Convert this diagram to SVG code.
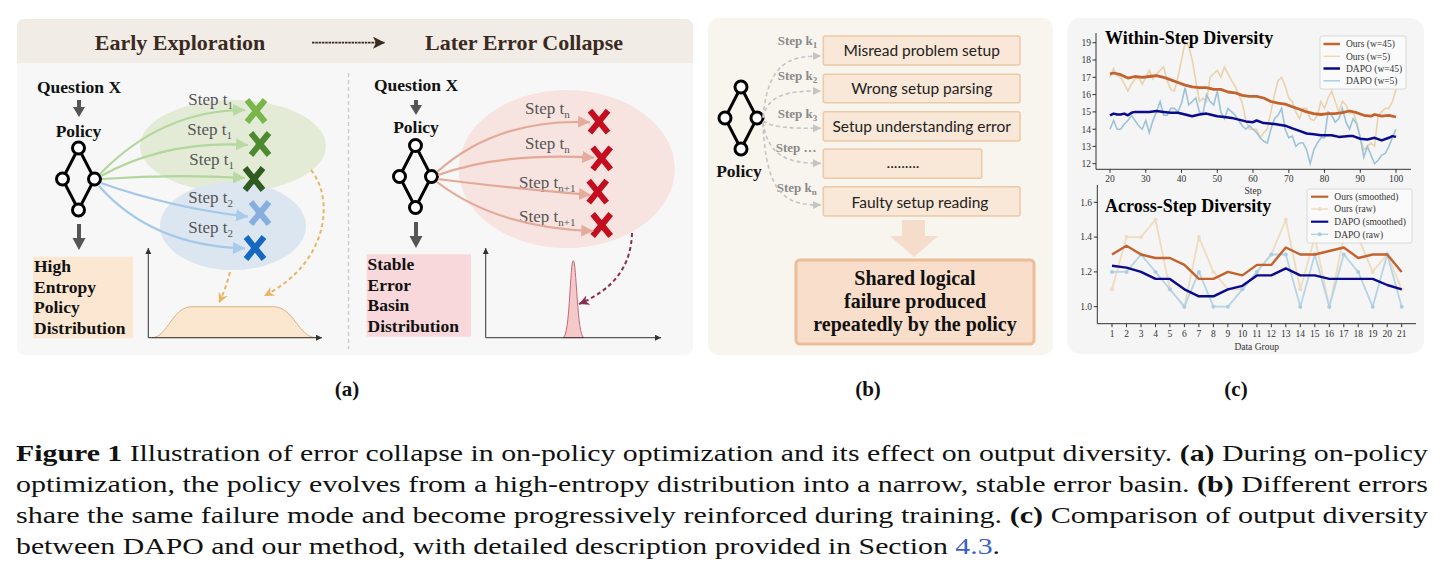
<svg xmlns="http://www.w3.org/2000/svg" width="1443" height="581" viewBox="0 0 1443 581">
<style>
.serif{font-family:"Liberation Serif","Times New Roman",serif}
.bold{font-weight:bold}
.hdr{font-family:"Liberation Serif",serif;font-weight:bold;font-size:22px;fill:#3b2a1e;text-anchor:middle}
.lbl{font-family:"Liberation Serif",serif;font-weight:bold;font-size:17.5px;fill:#111}
.step{font-family:"Liberation Serif",serif;font-size:17px;fill:#555}
.stepb{font-family:"Liberation Serif",serif;font-weight:bold;font-size:13px;fill:#8a8a8a}
.box{fill:#f9e7d7;stroke:#ecc9a7;stroke-width:1.5}
.boxt{font-family:Lato,"Open Sans",sans-serif;font-size:15.5px;fill:#222;text-anchor:middle}
.net circle{fill:#fff;stroke:#000;stroke-width:3}
.net path{fill:none;stroke:#000;stroke-width:3}
.tick{font-family:"Liberation Serif",serif;font-size:9.5px;fill:#333}
.leg{font-family:"Liberation Serif",serif;font-size:9.5px;fill:#333}
.ax{stroke:#333;stroke-width:1;fill:none}
.cap{font-family:"Liberation Serif","Times New Roman",serif;font-size:24px;fill:#111}
.xg{stroke-width:6;fill:none}
</style>
<defs>
<g id="net" class="net">
<path d="M0,-31 L-16,0 L0,31 L16,0 Z"/>
<circle cx="0" cy="-31" r="6"/><circle cx="-16" cy="0" r="6"/><circle cx="16" cy="0" r="6"/><circle cx="0" cy="31" r="6"/>
</g>
<path id="xm" d="M-9,-11 L9,11 M9,-11 L-9,11"/>
<marker id="mg" markerUnits="userSpaceOnUse" markerWidth="14" markerHeight="14" refX="12" refY="6" orient="auto"><path d="M0,0 L12,6 L0,12 Z" fill="#b9d9a2"/></marker>
<marker id="mb" markerUnits="userSpaceOnUse" markerWidth="14" markerHeight="14" refX="12" refY="6" orient="auto"><path d="M0,0 L12,6 L0,12 Z" fill="#a9cbeb"/></marker>
<marker id="mr" markerUnits="userSpaceOnUse" markerWidth="14" markerHeight="14" refX="12" refY="6" orient="auto"><path d="M0,0 L12,6 L0,12 Z" fill="#e5ab9d"/></marker>
<marker id="mo" markerUnits="userSpaceOnUse" markerWidth="12" markerHeight="12" refX="10" refY="5" orient="auto"><path d="M0,0 L10,5 L0,10 L3,5 Z" fill="#e9b565"/></marker>
<marker id="mp" markerUnits="userSpaceOnUse" markerWidth="12" markerHeight="12" refX="10" refY="5" orient="auto"><path d="M0,0 L10,5 L0,10 L3,5 Z" fill="#8b2d4f"/></marker>
<marker id="mgr" markerUnits="userSpaceOnUse" markerWidth="10" markerHeight="10" refX="8" refY="4" orient="auto"><path d="M0,0 L8,4 L0,8 Z" fill="#c4c4c4"/></marker>
<marker id="mk" markerUnits="userSpaceOnUse" markerWidth="8" markerHeight="8" refX="6" refY="3" orient="auto"><path d="M0,0 L6,3 L0,6 Z" fill="#333"/></marker>
<marker id="mh" markerUnits="userSpaceOnUse" markerWidth="14" markerHeight="14" refX="12" refY="6" orient="auto"><path d="M0,0 L12,6 L0,12 L3,6 Z" fill="#3b2a1e"/></marker>
<marker id="dotb" markerUnits="userSpaceOnUse" markerWidth="6" markerHeight="6" refX="3" refY="3"><circle cx="3" cy="3" r="2" fill="#a9cde3"/></marker>
<marker id="doto" markerUnits="userSpaceOnUse" markerWidth="6" markerHeight="6" refX="3" refY="3"><circle cx="3" cy="3" r="2" fill="#efdcbf"/></marker>
</defs>

<rect width="1443" height="581" fill="#fff"/>

<!-- Panel A -->
<g id="panel-a">
<rect x="17" y="19" width="676" height="336" rx="8" fill="#f7f7f7"/>
<path d="M17,63 L17,27 Q17,19 25,19 L685,19 Q693,19 693,27 L693,63 Z" fill="#f2ece6"/>
<text class="hdr" x="180" y="50">Early Exploration</text>
<text class="hdr" x="524" y="50">Later Error Collapse</text>
<line x1="312" y1="42.7" x2="385" y2="42.7" stroke="#3b2a1e" stroke-width="1.8" stroke-dasharray="2.5 0.8" marker-end="url(#mh)"/>
<line x1="348.5" y1="73" x2="348.5" y2="349" stroke="#cfcfcf" stroke-width="1.5" stroke-dasharray="4 3"/>

<g id="ellipses">
<ellipse cx="233" cy="146" rx="93" ry="46" fill="#e3ebd6"/>
<ellipse cx="233" cy="226" rx="73" ry="44" fill="#dce6f0"/>
<ellipse cx="566.7" cy="169" rx="108" ry="79" fill="#f7e3df"/>
</g>

<g id="node-question-early">
<text class="lbl" x="79" y="93" text-anchor="middle">Question X</text>
<path d="M79,100 L79,108" stroke="#555" stroke-width="4"/><path d="M73,107 L85,107 L79,117 Z" fill="#555"/>
</g>
<g id="node-policy-early">
<text class="lbl" x="78.5" y="137" text-anchor="middle">Policy</text>
<use href="#net" x="78.5" y="179"/>
<path d="M79,224 L79,239" stroke="#555" stroke-width="4"/><path d="M72.5,238 L85.5,238 L79,250 Z" fill="#555"/>
</g>
<g id="node-high-entropy">
<rect x="33" y="256.7" width="100" height="81.6" fill="#fbe7d2"/>
<text class="lbl" x="34" y="272" font-size="18">High</text>
<text class="lbl" x="34" y="292.5" font-size="18">Entropy</text>
<text class="lbl" x="34" y="313" font-size="18">Policy</text>
<text class="lbl" x="34" y="333.5" font-size="18">Distribution</text>
</g>
<g id="node-steps-early">
<text class="step" x="188.3" y="105">Step t<tspan font-size="11" dy="4">1</tspan></text>
<text class="step" x="187.3" y="135">Step t<tspan font-size="11" dy="4">1</tspan></text>
<text class="step" x="189.3" y="165">Step t<tspan font-size="11" dy="4">1</tspan></text>
<text class="step" x="188.3" y="203.3">Step t<tspan font-size="11" dy="4">2</tspan></text>
<text class="step" x="188.3" y="233.3">Step t<tspan font-size="11" dy="4">2</tspan></text>
<use href="#xm" x="256" y="111" class="xg" stroke="#79b54a"/>
<use href="#xm" x="260" y="144" class="xg" stroke="#4d8a32"/>
<use href="#xm" x="254" y="179" class="xg" stroke="#2f5a20"/>
<use href="#xm" x="260" y="213" class="xg" stroke="#86aede"/>
<use href="#xm" x="255" y="248" class="xg" stroke="#1468c0"/>
</g>
<g id="node-dist-early">
<path d="M152,337.7 C168,337 172,306.7 192,306.7 L273,306.7 C294,306.7 298,337 316,337.7 Z" fill="#fbe6cf" stroke="#d9b485" stroke-width="1"/>
<line x1="148.3" y1="337.7" x2="148.3" y2="248" class="ax" marker-end="url(#mk)"/>
<line x1="148.3" y1="337.7" x2="322" y2="337.7" class="ax" marker-end="url(#mk)"/>
</g>

<g id="node-question-late">
<text class="lbl" x="416" y="91" text-anchor="middle">Question X</text>
<path d="M416,100 L416,106" stroke="#555" stroke-width="4"/><path d="M410,105 L422,105 L416,115 Z" fill="#555"/>
</g>
<g id="node-policy-late">
<text class="lbl" x="416" y="133.3" text-anchor="middle">Policy</text>
<use href="#net" x="415.5" y="176.5"/>
<path d="M416,222 L416,237" stroke="#555" stroke-width="4"/><path d="M409.5,236 L422.5,236 L416,248 Z" fill="#555"/>
</g>
<g id="node-stable-basin">
<rect x="366.7" y="254.3" width="104.3" height="82.4" fill="#f8d8da"/>
<text class="lbl" x="367.5" y="270" font-size="18">Stable</text>
<text class="lbl" x="367.5" y="290.5" font-size="18">Error</text>
<text class="lbl" x="367.5" y="311" font-size="18">Basin</text>
<text class="lbl" x="367.5" y="331.5" font-size="18">Distribution</text>
</g>
<g id="node-steps-late">
<text class="step" x="525" y="114">Step t<tspan font-size="11" dy="4">n</tspan></text>
<text class="step" x="525" y="149">Step t<tspan font-size="11" dy="4">n</tspan></text>
<text class="step" x="519" y="188">Step t<tspan font-size="11" dy="4">n+1</tspan></text>
<text class="step" x="519" y="221.7">Step t<tspan font-size="11" dy="4">n+1</tspan></text>
<use href="#xm" x="599" y="121.7" class="xg" stroke="#c40d1e"/>
<use href="#xm" x="601.7" y="158.3" class="xg" stroke="#c40d1e"/>
<use href="#xm" x="597.7" y="191.7" class="xg" stroke="#c40d1e"/>
<use href="#xm" x="601.7" y="225" class="xg" stroke="#c40d1e"/>
</g>
<g id="node-dist-late">
<path d="M563,337.7 C570,337 570,260.7 573.3,260.7 C576.5,260.7 577,337 584,337.7 Z" fill="#f5c8c9" stroke="#c06b78" stroke-width="1"/>
<line x1="485.7" y1="337.7" x2="485.7" y2="248" class="ax" marker-end="url(#mk)"/>
<line x1="485.7" y1="337.7" x2="661" y2="337.7" class="ax" marker-end="url(#mk)"/>
</g>
</g>

<!-- Panel B -->
<g id="panel-b">
<rect x="708" y="18" width="345" height="337" rx="10" fill="#f8f4ee"/>
<g id="node-policy-b">
<use href="#net" x="741" y="118"/>
<text class="lbl" x="739" y="177" text-anchor="middle">Policy</text>
</g>
<g id="node-box-1"><rect class="box" x="823.3" y="36" width="196.7" height="29" rx="2"/><text class="boxt" x="921.7" y="55.5">Misread problem setup</text></g>
<g id="node-box-2"><rect class="box" x="823.3" y="74.3" width="196.7" height="28.4" rx="2"/><text class="boxt" x="921.7" y="94">Wrong setup parsing</text></g>
<g id="node-box-3"><rect class="box" x="823.3" y="111.7" width="196.7" height="29.3" rx="2"/><text class="boxt" x="921.7" y="131.7">Setup understanding error</text></g>
<g id="node-box-4"><rect class="box" x="823.3" y="149" width="158.4" height="29.3" rx="2"/><text class="boxt" x="903" y="168">.........</text></g>
<g id="node-box-5"><rect class="box" x="823.3" y="186.7" width="196.7" height="29.3" rx="2"/><text class="boxt" x="920" y="207.5">Faulty setup reading</text></g>
<g id="node-step-labels-b">
<text class="stepb" x="777.7" y="45">Step k<tspan font-size="9" dy="3">1</tspan></text>
<text class="stepb" x="777.7" y="80">Step k<tspan font-size="9" dy="3">2</tspan></text>
<text class="stepb" x="777.7" y="117.7">Step k<tspan font-size="9" dy="3">3</tspan></text>
<text class="stepb" x="775.7" y="151.7">Step …</text>
<text class="stepb" x="776.7" y="191.7">Step k<tspan font-size="9" dy="3">n</tspan></text>
</g>
<g id="node-down-arrow-b"><path d="M902,220 L925,220 L925,236 L938,236 L914,257 L890,236 L902,236 Z" fill="#f6dccb"/></g>
<g id="node-shared-failure">
<rect x="796" y="260" width="238" height="84" rx="4" fill="#f9dfcb" stroke="#ecbd97" stroke-width="3"/>
<text class="serif bold" x="915" y="285" font-size="20" text-anchor="middle" fill="#111">Shared logical</text>
<text class="serif bold" x="915" y="308" font-size="20" text-anchor="middle" fill="#111">failure produced</text>
<text class="serif bold" x="915" y="330.5" font-size="20" text-anchor="middle" fill="#111">repeatedly by the policy</text>
</g>
</g>

<!-- Connectors -->
<g id="connectors" fill="none">
<path d="M100,174 Q162,110 245,110" stroke="#b2d69b" stroke-width="2.2" marker-end="url(#mg)"/>
<path d="M101,176 Q166,140 248,145" stroke="#b2d69b" stroke-width="2.2" marker-end="url(#mg)"/>
<path d="M102,179 Q172,174 245,178" stroke="#b2d69b" stroke-width="2.2" marker-end="url(#mg)"/>
<path d="M101,183 Q172,208 248,216.7" stroke="#a5c8ea" stroke-width="2.2" marker-end="url(#mb)"/>
<path d="M99,186 Q152,246 245,248.3" stroke="#a5c8ea" stroke-width="2.2" marker-end="url(#mb)"/>
<path d="M311,170 C334,198 330,262 264,296" stroke="#e9b565" stroke-width="2" stroke-dasharray="4 3" marker-end="url(#mo)"/>
<path d="M230,272 Q226,288 219,303" stroke="#e9b565" stroke-width="2" stroke-dasharray="4 3" marker-end="url(#mo)"/>
<path d="M437,172 Q497,118 590,122.3" stroke="#e3a897" stroke-width="2.2" marker-end="url(#mr)"/>
<path d="M438,175 Q502,152 594.3,157.7" stroke="#e3a897" stroke-width="2.2" marker-end="url(#mr)"/>
<path d="M438,179 Q507,188 591,195" stroke="#e3a897" stroke-width="2.2" marker-end="url(#mr)"/>
<path d="M437,182 Q497,228 593.3,231" stroke="#e3a897" stroke-width="2.2" marker-end="url(#mr)"/>
<path d="M632,233 C631,268 612,290 579,304" stroke="#8b2d4f" stroke-width="2" stroke-dasharray="4 3" marker-end="url(#mp)"/>
<path d="M763,117 C768,62 790,56 821,56" stroke="#c4c4c4" stroke-width="1.6" stroke-dasharray="4 3" marker-end="url(#mgr)"/>
<path d="M763,118 C768,93 790,91 821,91" stroke="#c4c4c4" stroke-width="1.6" stroke-dasharray="4 3" marker-end="url(#mgr)"/>
<path d="M763,121 C772,128 795,128.3 821,128.3" stroke="#c4c4c4" stroke-width="1.6" stroke-dasharray="4 3" marker-end="url(#mgr)"/>
<path d="M763,122 C768,158 790,163.3 821,163.3" stroke="#c4c4c4" stroke-width="1.6" stroke-dasharray="4 3" marker-end="url(#mgr)"/>
<path d="M763,123 C766,198 788,205 821,205" stroke="#c4c4c4" stroke-width="1.6" stroke-dasharray="4 3" marker-end="url(#mgr)"/>
</g>

<!-- Panel C -->
<g id="panel-c">
<rect x="1067" y="18" width="357" height="336" rx="14" fill="#f5f5f5"/>
<g id="chart-within">
<polyline fill="none" stroke="#e9d3ad" stroke-width="1.6" points="1110,77.3 1113.6,68.6 1117.2,75.6 1120.7,77.3 1124.3,84.2 1127.9,91.1 1131.5,84.2 1135,79.0 1138.6,77.3 1142.2,84.2 1145.8,77.3 1149.3,70.4 1152.9,79.0 1156.5,73.8 1160.1,70.4 1163.6,66.9 1167.2,80.7 1170.8,89.4 1174.4,91.1 1177.9,77.3 1181.5,60.0 1185.1,42.7 1188.7,46.2 1192.2,60.0 1195.8,80.7 1199.4,101.5 1203,98.0 1206.5,101.5 1210.1,77.3 1213.7,73.8 1217.3,70.4 1220.8,77.3 1224.4,66.9 1228,73.8 1231.6,80.7 1235.1,85.9 1238.7,94.6 1242.3,103.2 1245.9,120.5 1249.4,129.2 1253,129.2 1256.6,129.2 1260.2,137.8 1263.7,132.6 1267.3,129.2 1270.9,111.9 1274.5,94.6 1278,80.7 1281.6,77.3 1285.2,85.9 1288.8,98.0 1292.3,101.5 1295.9,111.9 1299.5,118.8 1303.1,108.4 1306.6,108.4 1310.2,118.8 1313.8,120.5 1317.4,115.3 1320.9,101.5 1324.5,108.4 1328.1,98.0 1331.7,91.1 1335.2,101.5 1338.8,111.9 1342.4,101.5 1346,104.9 1349.5,113.6 1353.1,111.9 1356.7,122.2 1360.3,137.8 1363.8,149.9 1367.4,146.4 1371,143.0 1374.6,146.4 1378.1,115.3 1381.7,111.9 1385.3,108.4 1388.9,108.4 1392.4,101.5 1396,89.4"/>
<polyline fill="none" stroke="#9cc3da" stroke-width="1.6" points="1110,129.2 1113.6,120.5 1117.2,129.2 1120.7,129.2 1124.3,124.0 1127.9,120.5 1131.5,115.3 1135,120.5 1138.6,125.7 1142.2,129.2 1145.8,120.5 1149.3,132.6 1152.9,120.5 1156.5,111.9 1160.1,101.5 1163.6,115.3 1167.2,115.3 1170.8,108.4 1174.4,108.4 1177.9,111.9 1181.5,103.2 1185.1,87.7 1188.7,104.9 1192.2,101.5 1195.8,98.0 1199.4,111.9 1203,113.6 1206.5,94.6 1210.1,101.5 1213.7,104.9 1217.3,91.1 1220.8,111.9 1224.4,118.8 1228,108.4 1231.6,111.9 1235.1,115.3 1238.7,120.5 1242.3,125.7 1245.9,129.2 1249.4,125.7 1253,129.2 1256.6,132.6 1260.2,137.8 1263.7,141.3 1267.3,143.0 1270.9,129.2 1274.5,118.8 1278,115.3 1281.6,108.4 1285.2,129.2 1288.8,137.8 1292.3,136.1 1295.9,146.4 1299.5,143.0 1303.1,143.0 1306.6,149.9 1310.2,163.7 1313.8,149.9 1317.4,143.0 1320.9,137.8 1324.5,137.8 1328.1,111.9 1331.7,115.3 1335.2,122.2 1338.8,118.8 1342.4,108.4 1346,122.2 1349.5,129.2 1353.1,118.8 1356.7,124.0 1360.3,137.8 1363.8,157.0 1367.4,146.4 1371,155.1 1374.6,163.7 1378.1,160.3 1381.7,155.1 1385.3,153.4 1388.9,146.4 1392.4,137.8 1396,129.2"/>
<polyline fill="none" stroke="#c4622d" stroke-width="2.8" stroke-linejoin="round" points="1110,73.8 1113.6,73.0 1120.7,74.7 1127.9,78.1 1135,76.5 1142.2,77.3 1149.3,76.5 1156.5,75.6 1163.6,77.3 1170.8,79.9 1177.9,82.5 1185.1,85.1 1192.2,86.8 1199.4,87.7 1206.5,87.7 1213.7,89.4 1220.8,89.4 1228,92.0 1235.1,92.8 1242.3,95.4 1249.4,96.3 1256.6,96.3 1263.7,98.0 1270.9,101.5 1278,103.2 1285.2,104.1 1292.3,106.7 1299.5,109.3 1306.6,111.9 1313.8,113.6 1320.9,114.5 1328.1,113.6 1335.2,113.6 1342.4,112.7 1349.5,111.0 1356.7,112.7 1363.8,115.3 1371,116.2 1374.6,114.5 1381.7,116.2 1388.9,115.3 1396,117.0"/>
<polyline fill="none" stroke="#0a0a8c" stroke-width="2.5" stroke-linejoin="round" points="1110,115.3 1113.6,113.6 1117.2,114.5 1120.7,114.5 1124.3,113.6 1127.9,115.3 1131.5,112.7 1135,111.9 1142.2,111.9 1149.3,111.9 1156.5,111.0 1163.6,111.9 1170.8,112.7 1177.9,112.7 1185.1,114.5 1192.2,116.2 1199.4,114.5 1206.5,113.6 1210.1,114.5 1217.3,116.2 1224.4,117.0 1231.6,117.9 1238.7,119.6 1245.9,121.4 1253,122.2 1256.6,120.5 1263.7,123.1 1274.5,124.0 1285.2,125.7 1292.3,128.3 1299.5,130.9 1306.6,133.5 1313.8,134.3 1320.9,135.2 1331.7,135.2 1338.8,136.9 1349.5,136.1 1353.1,136.1 1360.3,138.7 1367.4,139.5 1374.6,137.8 1381.7,140.4 1388.9,137.8 1392.4,136.1 1396,136.9"/>
<path class="ax" d="M1096,33 L1096,169.3 L1411,169.3"/>
<path class="ax" d="M1092.5,42.7h3.5M1092.5,60h3.5M1092.5,77.3h3.5M1092.5,94.6h3.5M1092.5,111.9h3.5M1092.5,129.2h3.5M1092.5,146.4h3.5M1092.5,163.7h3.5"/>
<path class="ax" d="M1110,169.3v3.5M1145.8,169.3v3.5M1181.5,169.3v3.5M1217.3,169.3v3.5M1253,169.3v3.5M1288.8,169.3v3.5M1324.5,169.3v3.5M1360.3,169.3v3.5M1396,169.3v3.5"/>
<g class="tick" text-anchor="end">
<text x="1091" y="46">19</text><text x="1091" y="63.3">18</text><text x="1091" y="80.6">17</text><text x="1091" y="97.9">16</text><text x="1091" y="115.2">15</text><text x="1091" y="132.5">14</text><text x="1091" y="149.7">13</text><text x="1091" y="167">12</text>
</g>
<g class="tick" text-anchor="middle">
<text x="1110" y="182">20</text><text x="1145.8" y="182">30</text><text x="1181.5" y="182">40</text><text x="1217.3" y="182">50</text><text x="1253" y="182">60</text><text x="1288.8" y="182">70</text><text x="1324.5" y="182">80</text><text x="1360.3" y="182">90</text><text x="1396" y="182">100</text>
<text x="1253" y="193.5">Step</text>
</g>
<text class="serif bold" x="1105" y="44" font-size="18" fill="#000">Within-Step Diversity</text>
<g id="legend-within">
<rect x="1320" y="36" width="86" height="53" rx="2" fill="#fafafa" fill-opacity="0.85" stroke="#d0d0d0" stroke-width="0.8"/>
<line x1="1323.5" y1="44" x2="1340" y2="44" stroke="#c4622d" stroke-width="2.5"/>
<line x1="1323.5" y1="56.3" x2="1340" y2="56.3" stroke="#eed9b5" stroke-width="1.5"/>
<line x1="1323.5" y1="68.5" x2="1340" y2="68.5" stroke="#0a0a8c" stroke-width="2.5"/>
<line x1="1323.5" y1="80.8" x2="1340" y2="80.8" stroke="#a9cde3" stroke-width="1.5"/>
<text class="leg" x="1346" y="47.3">Ours (w=45)</text>
<text class="leg" x="1346" y="59.6">Ours (w=5)</text>
<text class="leg" x="1346" y="71.8">DAPO (w=45)</text>
<text class="leg" x="1346" y="84.1">DAPO (w=5)</text>
</g>
</g>

<g id="chart-across">
<polyline fill="none" stroke="#efdcbf" stroke-width="1.8" marker-start="url(#doto)" marker-mid="url(#doto)" marker-end="url(#doto)" points="1112,289.3 1126.5,237.1 1141,237.1 1155.5,219.7 1169.9,289.3 1184.4,306.7 1198.9,237.1 1213.4,271.9 1227.9,289.3 1242.4,289.3 1256.9,271.9 1271.3,254.5 1285.8,219.7 1300.3,289.3 1314.8,237.1 1329.3,306.7 1343.8,237.1 1358.2,237.1 1372.7,271.9 1387.2,254.5 1401.7,289.3"/>
<polyline fill="none" stroke="#b5d4e6" stroke-width="1.8" marker-start="url(#dotb)" marker-mid="url(#dotb)" marker-end="url(#dotb)" points="1112,271.9 1126.5,271.9 1141,254.5 1155.5,271.9 1169.9,289.3 1184.4,306.7 1198.9,271.9 1213.4,306.7 1227.9,306.7 1242.4,289.3 1256.9,271.9 1271.3,254.5 1285.8,254.5 1300.3,306.7 1314.8,254.5 1329.3,306.7 1343.8,254.5 1358.2,271.9 1372.7,306.7 1387.2,254.5 1401.7,306.7"/>
<polyline fill="none" stroke="#c4622d" stroke-width="2.4" stroke-linejoin="round" points="1112,254.5 1126.5,245.8 1141,254.5 1155.5,258.0 1169.9,258.0 1184.4,264.9 1198.9,278.9 1213.4,278.9 1227.9,271.9 1242.4,275.4 1256.9,264.9 1271.3,264.9 1285.8,247.5 1300.3,254.5 1314.8,254.5 1329.3,251.0 1343.8,247.5 1358.2,258.0 1372.7,254.5 1387.2,254.5 1401.7,271.9"/>
<polyline fill="none" stroke="#0a0a8c" stroke-width="2.4" stroke-linejoin="round" points="1112,265.8 1126.5,267.6 1141,271.9 1155.5,278.9 1169.9,278.9 1184.4,289.3 1198.9,296.3 1213.4,296.3 1227.9,289.3 1242.4,285.8 1256.9,275.4 1271.3,275.4 1285.8,268.4 1300.3,275.4 1314.8,275.4 1329.3,278.9 1343.8,278.9 1358.2,278.9 1372.7,278.9 1387.2,285.0 1401.7,289.3"/>
<path class="ax" d="M1097.3,185 L1097.3,323.7 L1416,323.7"/>
<path class="ax" d="M1093.8,202.3h3.5M1093.8,237.1h3.5M1093.8,271.9h3.5M1093.8,306.7h3.5"/>
<path class="ax" d="M1112,323.7v3.5M1126.5,323.7v3.5M1141,323.7v3.5M1155.5,323.7v3.5M1169.9,323.7v3.5M1184.4,323.7v3.5M1198.9,323.7v3.5M1213.4,323.7v3.5M1227.9,323.7v3.5M1242.4,323.7v3.5M1256.9,323.7v3.5M1271.3,323.7v3.5M1285.8,323.7v3.5M1300.3,323.7v3.5M1314.8,323.7v3.5M1329.3,323.7v3.5M1343.8,323.7v3.5M1358.2,323.7v3.5M1372.7,323.7v3.5M1387.2,323.7v3.5M1401.7,323.7v3.5"/>
<g class="tick" text-anchor="end">
<text x="1092" y="205.6">1.6</text><text x="1092" y="240.4">1.4</text><text x="1092" y="275.2">1.2</text><text x="1092" y="310">1.0</text>
</g>
<g class="tick" text-anchor="middle">
<text x="1112" y="337">1</text><text x="1126.5" y="337">2</text><text x="1141" y="337">3</text><text x="1155.5" y="337">4</text><text x="1169.9" y="337">5</text><text x="1184.4" y="337">6</text><text x="1198.9" y="337">7</text><text x="1213.4" y="337">8</text><text x="1227.9" y="337">9</text><text x="1242.4" y="337">10</text><text x="1256.9" y="337">11</text><text x="1271.3" y="337">12</text><text x="1285.8" y="337">13</text><text x="1300.3" y="337">14</text><text x="1314.8" y="337">15</text><text x="1329.3" y="337">16</text><text x="1343.8" y="337">17</text><text x="1358.2" y="337">18</text><text x="1372.7" y="337">19</text><text x="1387.2" y="337">20</text><text x="1401.7" y="337">21</text>
<text x="1256.7" y="349.5">Data Group</text>
</g>
<text class="serif bold" x="1105" y="212" font-size="18" fill="#000">Across-Step Diversity</text>
<g id="legend-across">
<rect x="1307" y="189" width="105" height="54" rx="2" fill="#fafafa" fill-opacity="0.85" stroke="#d0d0d0" stroke-width="0.8"/>
<line x1="1311" y1="196.7" x2="1328.3" y2="196.7" stroke="#c4622d" stroke-width="2.2"/>
<line x1="1311" y1="209" x2="1328.3" y2="209" stroke="#efdcbf" stroke-width="1.5"/><circle cx="1319.7" cy="209" r="2" fill="#efdcbf"/>
<line x1="1311" y1="221.7" x2="1328.3" y2="221.7" stroke="#0a0a8c" stroke-width="2.2"/>
<line x1="1311" y1="234.3" x2="1328.3" y2="234.3" stroke="#b5d4e6" stroke-width="1.5"/><circle cx="1319.7" cy="234.3" r="2" fill="#a9cde3"/>
<text class="leg" x="1334.3" y="200">Ours (smoothed)</text>
<text class="leg" x="1334.3" y="212.3">Ours (raw)</text>
<text class="leg" x="1334.3" y="225">DAPO (smoothed)</text>
<text class="leg" x="1334.3" y="237.6">DAPO (raw)</text>
</g>
</g>
</g>

<!-- Sub labels -->
<g id="sublabels" class="serif bold" font-size="21" fill="#111" text-anchor="middle">
<text x="347" y="396">(a)</text>
<text x="868" y="396">(b)</text>
<text x="1236" y="396">(c)</text>
</g>

<!-- Caption -->
<g id="caption" class="cap">
<text x="16" y="461" textLength="1412" lengthAdjust="spacingAndGlyphs"><tspan font-weight="bold">Figure 1</tspan>  Illustration of error collapse in on-policy optimization and its effect on output diversity. <tspan font-weight="bold">(a)</tspan> During on-policy</text>
<text x="16" y="492" textLength="1412" lengthAdjust="spacingAndGlyphs">optimization, the policy evolves from a high-entropy distribution into a narrow, stable error basin. <tspan font-weight="bold">(b)</tspan> Different errors</text>
<text x="16" y="523" textLength="1412" lengthAdjust="spacingAndGlyphs">share the same failure mode and become progressively reinforced during training. <tspan font-weight="bold">(c)</tspan> Comparison of output diversity</text>
<text x="16" y="554" textLength="984" lengthAdjust="spacingAndGlyphs">between DAPO and our method, with detailed description provided in Section <tspan fill="#3a5fcd">4.3</tspan>.</text>
</g>
</svg>
